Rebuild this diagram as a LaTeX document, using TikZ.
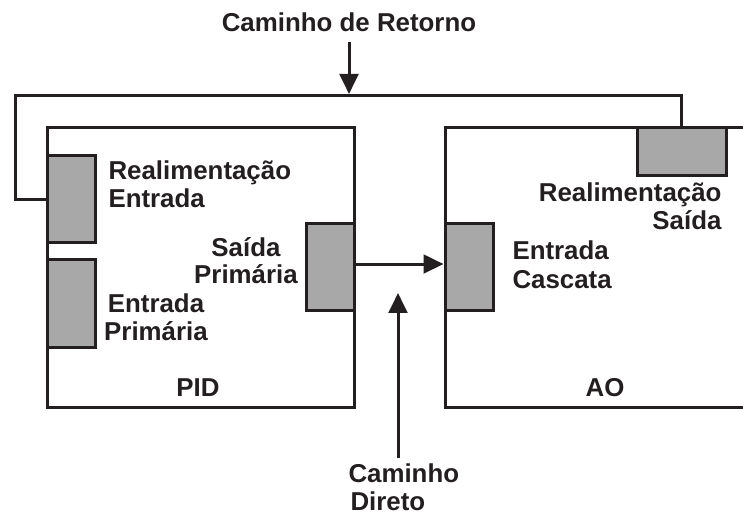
\documentclass[tikz,border=0pt]{standalone}
\usepackage{fontspec}
\setmainfont{Liberation Sans}
\usetikzlibrary{arrows.meta}
\definecolor{ln}{HTML}{231F20}
\definecolor{portgray}{HTML}{A8A8A8}
\begin{document}
\begin{tikzpicture}[x=0.75pt,y=-0.75pt,
  line width=2.25pt, draw=ln,
  lbl/.style={font=\bfseries\fontsize{19.4}{21}\selectfont, text=ln, inner sep=0pt},
  blockbox/.style={draw=ln, fill=white, inner sep=0pt, line width=2.25pt},
  portbox/.style={draw=ln, fill=portgray, inner sep=0pt, line width=2.25pt},
  arr/.style={-{Triangle[length=15pt,width=14pt]}, line width=2.25pt, draw=ln}]
\useasboundingbox (0,0) rectangle (743,516);
% blocks
\node[blockbox, minimum width=230.25pt, minimum height=210pt] (pid) at (200.5,268) {};
\draw[line width=2.25pt] (743,128) -- (445,128) -- (445,408) -- (743,408);
% ports
\node[portbox, minimum width=36pt, minimum height=65.25pt] (re) at (71,199.5) {};
\node[portbox, minimum width=36pt, minimum height=66pt] (ep) at (71,304) {};
\node[portbox, minimum width=36pt, minimum height=65.25pt] (sp) at (330,267.5) {};
\node[portbox, minimum width=36pt, minimum height=65.25pt] (ec) at (469,267.5) {};
\node[portbox, minimum width=66.75pt, minimum height=36pt] (rs) at (681.5,152) {};
% feedback path
\coordinate (fbL) at (15,96);
\draw (re.west) -| (fbL) -| (rs.north);
% arrows
\coordinate (retTop) at (349,42);
\coordinate (retEnd) at (349,94);
\draw[arr] (retTop) -- (retEnd);
\draw[arr] ([yshift=2.6pt]sp.east) -- ([yshift=2.6pt]ec.west);
\coordinate (dirBot) at (398,458);
\coordinate (dirTop) at (398,293);
\draw[arr] (dirBot) -- (dirTop);
% labels
\node[lbl, anchor=base] (tret) at (349,32) {Caminho de Retorno};
\node[lbl, anchor=base west] (tre1) at (107,180) {Realimentação};
\node[lbl, anchor=base west] (tre2) at (107,208) {Entrada};
\node[lbl, anchor=base] (tsp1) at (246,257) {Saída};
\node[lbl, anchor=base] (tsp2) at (246,284) {Primária};
\node[lbl, anchor=base] (tep1) at (156,313) {Entrada};
\node[lbl, anchor=base] (tep2) at (156,341) {Primária};
\node[lbl, anchor=base] (tpid) at (198,397) {PID};
\node[lbl, anchor=base east] (trs1) at (723,202) {Realimentação};
\node[lbl, anchor=base east] (trs2) at (723,230) {Saída};
\node[lbl, anchor=base west] (tec1) at (511,260) {Entrada};
\node[lbl, anchor=base west] (tec2) at (511,289) {Cascata};
\node[lbl, anchor=base] (tao) at (605,397) {AO};
\node[lbl, anchor=base west] (tdir1) at (347,483) {Caminho};
\node[lbl, anchor=base west] (tdir2) at (349,511) {Direto};
\end{tikzpicture}
\end{document}
